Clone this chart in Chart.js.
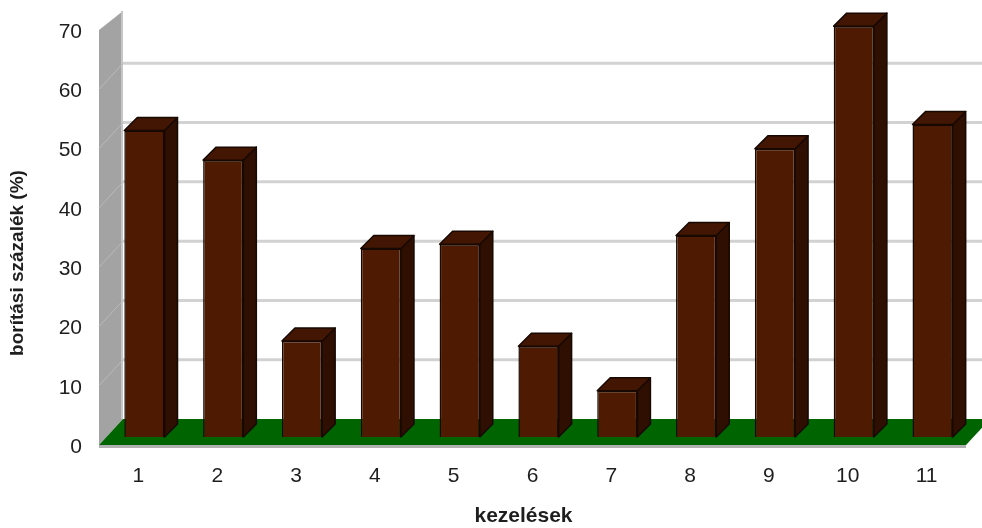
<!DOCTYPE html>
<html>
<head>
<meta charset="utf-8">
<script src="https://cdn.jsdelivr.net/npm/chart.js@4/dist/chart.umd.min.js"></script>
<style>
    html, body { margin: 0; padding: 0; background: #fff; }
    #wrap { width: 982px; height: 528px; }
</style>
</head>
<body>
<div id="wrap"><canvas id="coverChart" width="982" height="528"></canvas></div>
<script>
// データ
const categories = ['1', '2', '3', '4', '5', '6', '7', '8', '9', '10', '11'];
const coverage = [51.7, 46.7, 16.2, 31.8, 32.5, 15.3, 7.8, 34.0, 48.6, 69.3, 52.7];
const yTicks = [0, 10, 20, 30, 40, 50, 60, 70];
const xTitle = 'kezelések';
const yTitle = 'borítási százalék (%)';

// 3D表示用のオフセット（棒の面を基準に）
const FRONT = { dx: -6, dy: 8 };
const BACK = { dx: 18, dy: -18 };
const BAR_DEPTH = 13;
const FONT = '"Liberation Sans", Arial, sans-serif';

// 壁・床・目盛線
const wallPlugin = {
    id: 'wall',
    beforeDatasetsDraw(chart) {
        const { ctx, chartArea, scales } = chart;
        const y = scales.y;
        const fl = chartArea.left + FRONT.dx;
        const bl = chartArea.left + BACK.dx;
        const fr = chartArea.right + FRONT.dx;
        const br = chartArea.right + BACK.dx;
        const f0 = y.getPixelForValue(0) + FRONT.dy;
        const b0 = y.getPixelForValue(0) + BACK.dy;
        const fTop = y.getPixelForValue(y.max) + FRONT.dy;
        const bTop = fTop - 19;

        ctx.save();
        // 左の壁
        ctx.fillStyle = '#a3a3a3';
        ctx.beginPath();
        ctx.moveTo(fl, f0);
        ctx.lineTo(fl, fTop);
        ctx.lineTo(bl, bTop);
        ctx.lineTo(bl, b0);
        ctx.closePath();
        ctx.fill();

        ctx.strokeStyle = '#c6c6c6';
        ctx.lineWidth = 2;
        ctx.beginPath();
        ctx.moveTo(bl - 1, bTop);
        ctx.lineTo(bl - 1, b0);
        ctx.stroke();

        // 目盛線
        y.ticks.forEach((t) => {
            if (t.value <= 0 || t.value >= y.max) return;
            const py = y.getPixelForValue(t.value);
            ctx.strokeStyle = '#d2d2d2';
            ctx.lineWidth = 3;
            ctx.beginPath();
            ctx.moveTo(bl, py + BACK.dy);
            ctx.lineTo(br, py + BACK.dy);
            ctx.stroke();

            ctx.strokeStyle = '#bababa';
            ctx.lineWidth = 1;
            ctx.beginPath();
            ctx.moveTo(fl, py + FRONT.dy);
            ctx.lineTo(bl, py + BACK.dy);
            ctx.stroke();
        });

        // 床
        ctx.fillStyle = '#006400';
        ctx.beginPath();
        ctx.moveTo(fl, f0);
        ctx.lineTo(bl, b0);
        ctx.lineTo(br, b0);
        ctx.lineTo(fr, f0);
        ctx.closePath();
        ctx.fill();
        ctx.fillStyle = '#b0b0b0';
        ctx.fillRect(fl, f0, fr - fl, 3);
        ctx.restore();
    }
};

// 棒の上面と側面
const boxPlugin = {
    id: 'box',
    afterDatasetsDraw(chart) {
        const { ctx } = chart;
        const meta = chart.getDatasetMeta(0);
        ctx.save();
        ctx.lineWidth = 1.5;
        ctx.strokeStyle = '#170802';
        ctx.lineJoin = 'round';
        meta.data.forEach((bar) => {
            const { x, y, base, width } = bar.getProps(['x', 'y', 'base', 'width'], true);
            const l = x - width / 2;
            const r = x + width / 2;
            const d = BAR_DEPTH;

            ctx.fillStyle = '#2e0f02';
            ctx.beginPath();
            ctx.moveTo(r, y);
            ctx.lineTo(r + d, y - d);
            ctx.lineTo(r + d, base - d);
            ctx.lineTo(r, base);
            ctx.closePath();
            ctx.fill();
            ctx.stroke();

            ctx.fillStyle = '#421602';
            ctx.beginPath();
            ctx.moveTo(l, y);
            ctx.lineTo(l + d, y - d);
            ctx.lineTo(r + d, y - d);
            ctx.lineTo(r, y);
            ctx.closePath();
            ctx.fill();
            ctx.stroke();
        });
        ctx.restore();
    }
};

// 軸タイトル
const titlePlugin = {
    id: 'axisTitles',
    afterDraw(chart) {
        const { ctx } = chart;
        ctx.save();
        ctx.fillStyle = '#1e1e1e';
        ctx.textAlign = 'center';
        ctx.textBaseline = 'middle';
        ctx.font = 'bold 21px ' + FONT;
        ctx.fillText(xTitle, 523.5, 516.5);
        ctx.translate(17.5, 263);
        ctx.rotate(-Math.PI / 2);
        ctx.font = 'bold 19px ' + FONT;
        ctx.fillText(yTitle, 0, 0);
        ctx.restore();
    }
};

// グラフの初期化
const ctx = document.getElementById('coverChart').getContext('2d');
const coverChart = new Chart(ctx, {
    type: 'bar',
    data: {
        labels: categories,
        datasets: [{
            data: coverage,
            backgroundColor: '#4e1b02',
            borderColor: '#170802',
            borderWidth: 1.5,
            categoryPercentage: 1,
            barPercentage: 0.51
        }]
    },
    options: {
        responsive: false,
        animation: false,
        layout: {
            padding: { top: 22, right: 10, bottom: 0, left: 0 }
        },
        plugins: {
            legend: { display: false },
            tooltip: { enabled: false }
        },
        scales: {
            x: {
                grid: { display: false, drawTicks: false },
                border: { display: false },
                ticks: {
                    font: { family: FONT, size: 21 },
                    color: '#1e1e1e',
                    padding: 27,
                    labelOffset: -6,
                    maxRotation: 0
                },
                afterFit(scale) { scale.height = 91; }
            },
            y: {
                min: 0,
                max: 70,
                grid: { display: false, drawTicks: false },
                border: { display: false },
                afterBuildTicks(scale) {
                    scale.ticks = yTicks.map((v) => ({ value: v }));
                },
                ticks: {
                    font: { family: FONT, size: 21 },
                    color: '#1e1e1e',
                    padding: 23,
                    labelOffset: 10
                },
                afterFit(scale) {
                    scale.width = 105;
                    scale.paddingTop = 0;
                    scale.paddingBottom = 0;
                }
            }
        }
    },
    plugins: [wallPlugin, boxPlugin, titlePlugin]
});
</script>
</body>
</html>
